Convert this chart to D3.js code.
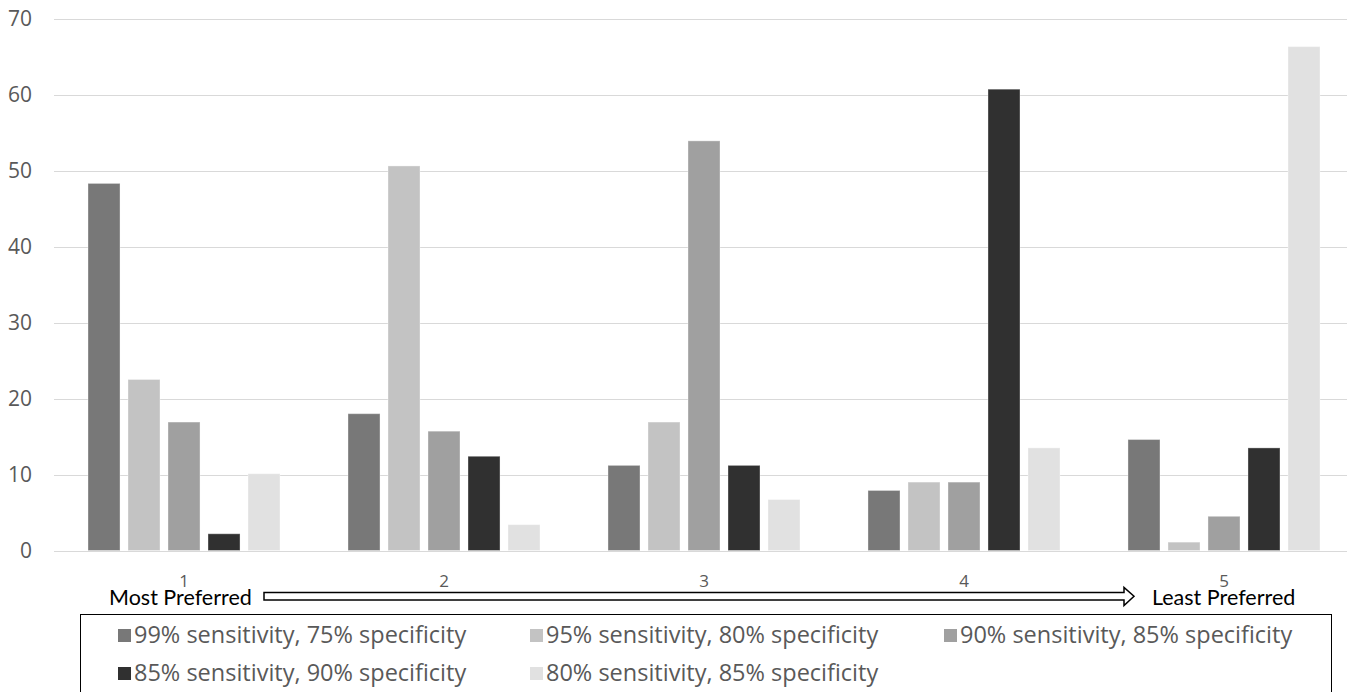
<!DOCTYPE html>
<html>
<head>
<meta charset="utf-8">
<script src="https://cdn.jsdelivr.net/npm/d3@7"></script>
<style>
  html, body { margin: 0; padding: 0; background: #fff; }
  svg { display: block; }
</style>
</head>
<body>
<svg id="chart" width="1347" height="692"></svg>
<script>
// ---- data ----
const categories = ["1", "2", "3", "4", "5"];
const seriesNames = [
  "99% sensitivity, 75% specificity",
  "95% sensitivity, 80% specificity",
  "90% sensitivity, 85% specificity",
  "85% sensitivity, 90% specificity",
  "80% sensitivity, 85% specificity"
];
const s99_75 = [48.3, 18.0, 11.2, 7.9, 14.6];
const s95_80 = [22.5, 50.6, 16.9, 9.0, 1.1];
const s90_85 = [16.9, 15.7, 53.9, 9.0, 4.5];
const s85_90 = [2.2, 12.4, 11.2, 60.7, 13.5];
const s80_85 = [10.1, 3.4, 6.7, 13.5, 66.3];
const seriesValues = [s99_75, s95_80, s90_85, s85_90, s80_85];
const seriesColors = ["#787878", "#c3c3c3", "#a0a0a0", "#303030", "#e1e1e1"];
const yTicks = [0, 10, 20, 30, 40, 50, 60, 70];
const leftLabel = "Most Preferred";
const rightLabel = "Least Preferred";

// ---- layout ----
const svg = d3.select("#chart");
const plot = { left: 54, right: 1354, top: 18.5, bottom: 550.5 };

const y = d3.scaleLinear().domain([0, 70]).range([plot.bottom, plot.top]);
const x0 = d3.scaleBand().domain(categories).range([plot.left, plot.right])
  .paddingInner(0.2615).paddingOuter(0.1308);
const x1 = d3.scaleBand().domain(d3.range(seriesNames.length)).range([0, x0.bandwidth()])
  .paddingInner(0.2).paddingOuter(0);

const axisFont = "'Open Sans', 'Noto Sans', sans-serif";
const textGray = "#595959";

// gridlines
svg.append("g").selectAll("line").data(yTicks).join("line")
  .attr("x1", plot.left).attr("x2", 1347)
  .attr("y1", d => Math.round(y(d)) + 0.5).attr("y2", d => Math.round(y(d)) + 0.5)
  .attr("stroke", "#d9d9d9").attr("stroke-width", 1);

// y axis labels
const yAxis = d3.axisLeft(y).tickValues(yTicks).tickSize(0).tickPadding(0);
const yg = svg.append("g").attr("transform", `translate(32,0)`).call(yAxis);
yg.select(".domain").remove();
yg.selectAll("text").attr("font-family", axisFont).attr("font-size", 21)
  .attr("fill", textGray).attr("dy", "0.35em");

// bars
const groups = svg.append("g").selectAll("g").data(categories).join("g")
  .attr("transform", d => `translate(${x0(d)},0)`);
groups.selectAll("rect")
  .data((c, ci) => seriesValues.map((vals, si) => ({ si, v: vals[ci] })))
  .join("rect")
  .attr("x", d => x1(d.si))
  .attr("width", x1.bandwidth())
  .attr("y", d => y(d.v))
  .attr("height", d => y(0) - y(d.v))
  .attr("fill", d => seriesColors[d.si])
  .attr("stroke", "#ffffff").attr("stroke-opacity", 0.35).attr("stroke-width", 1);

// x axis labels
const xAxis = d3.axisBottom(x0).tickSize(0).tickPadding(0);
const xg = svg.append("g").attr("transform", `translate(0,${plot.bottom})`).call(xAxis);
xg.select(".domain").remove();
xg.selectAll("text").attr("font-family", axisFont).attr("font-size", 17)
  .attr("fill", textGray).attr("y", 36).attr("dy", 0);

// arrow annotation
const calFont = "Lato, 'Liberation Sans', sans-serif";
svg.append("text").attr("x", 109).attr("y", 605).text(leftLabel)
  .attr("font-family", calFont).attr("font-size", 21.5).attr("fill", "#000");
svg.append("text").attr("x", 1152).attr("y", 605).text(rightLabel)
  .attr("font-family", calFont).attr("font-size", 21.5).attr("fill", "#000");

const ax0 = 264, ax1 = 1134, headStart = 1124, shTop = 592.5, shBot = 600, hdTop = 587.5, hdBot = 605.5;
const arrowPath = `M${ax0},${shTop} L${headStart},${shTop} L${headStart},${hdTop} L${ax1},${(shTop + shBot) / 2} L${headStart},${hdBot} L${headStart},${shBot} L${ax0},${shBot} Z`;
svg.append("path").attr("d", arrowPath).attr("fill", "#fff").attr("stroke", "#000").attr("stroke-width", 1.5);

// legend box
svg.append("rect").attr("x", 80.5).attr("y", 614.5).attr("width", 1251).attr("height", 90)
  .attr("fill", "none").attr("stroke", "#000").attr("stroke-width", 1);

const legendPos = [
  { x: 118, y: 635 }, { x: 530, y: 635 }, { x: 944, y: 635 },
  { x: 118, y: 673 }, { x: 530, y: 673 }
];
const lg = svg.append("g").selectAll("g").data(seriesNames).join("g")
  .attr("transform", (d, i) => `translate(${legendPos[i].x},${legendPos[i].y})`);
lg.append("rect").attr("x", 0).attr("y", -6).attr("width", 13).attr("height", 13)
  .attr("fill", (d, i) => seriesColors[i]);
lg.append("text").attr("x", 16).attr("y", 0).attr("dy", "0.35em").text(d => d)
  .attr("font-family", axisFont).attr("font-size", 23.5).attr("fill", textGray);
</script>
</body>
</html>
